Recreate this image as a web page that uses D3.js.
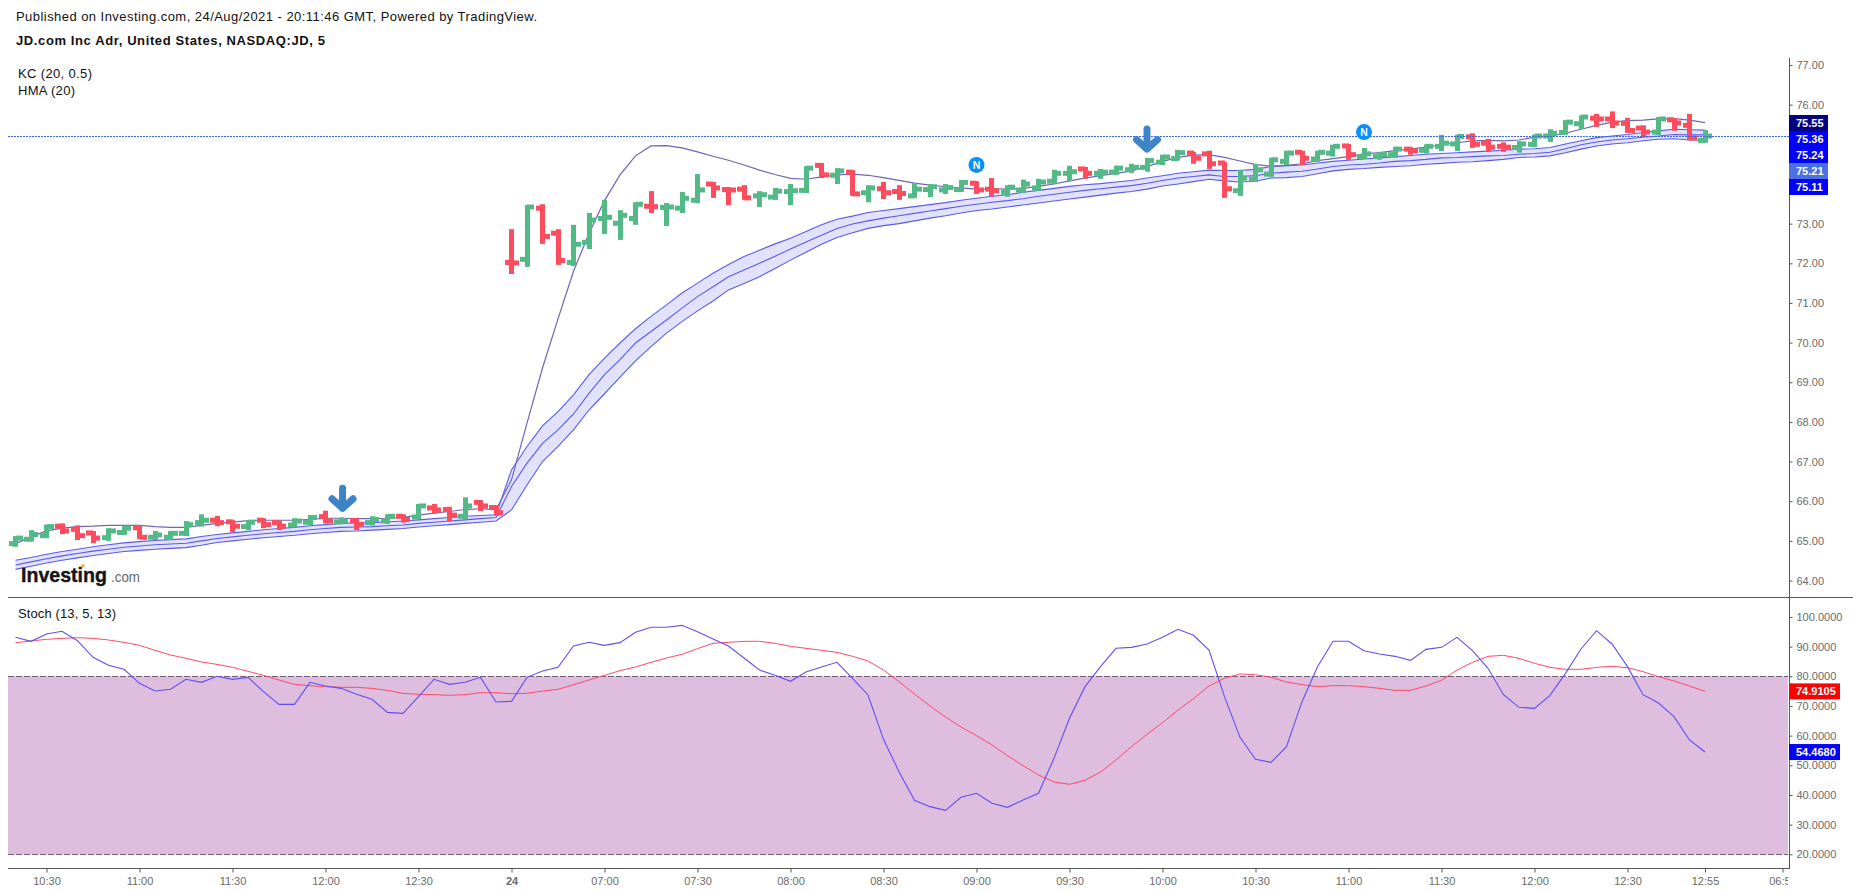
<!DOCTYPE html>
<html>
<head>
<meta charset="utf-8">
<title>JD.com Inc Adr, 5 minute chart</title>
<script src="https://cdnjs.cloudflare.com/ajax/libs/d3/7.8.5/d3.min.js"></script>
<style>
  html, body { margin: 0; padding: 0; background: #fff; }
  svg { display: block; font-family: "Liberation Sans", Arial, sans-serif; }
</style>
</head>
<body>
<svg id="chart" width="1853" height="892"></svg>
<script>
// Five-minute bars, one entry per bar
const open = [64.93,65.04,65.13,65.37,65.29,65.20,65.08,65.21,65.33,65.09,65.09,65.19,65.46,65.52,65.48,65.36,65.52,65.46,65.40,65.47,65.61,65.48,65.51,65.46,65.50,65.62,65.60,65.83,65.79,65.62,65.97,65.84,
  72.02,72.10,73.39,72.76,72.02,72.53,73.13,73.01,73.13,73.44,73.41,73.39,73.59,74.00,73.86,73.87,73.70,73.67,73.81,73.84,74.47,74.22,74.30,73.78,73.88,73.81,73.70,73.86,73.85,73.86,74.02,
  73.87,73.79,73.85,73.90,74.07,74.27,74.38,74.27,74.30,74.36,74.42,74.55,74.64,74.78,74.76,74.53,73.83,74.12,74.25,74.57,74.80,74.63,74.78,74.96,74.69,74.69,74.74,
  74.88,74.85,74.95,75.01,75.19,75.03,74.95,74.92,75.00,75.21,75.30,75.52,75.66,75.64,75.53,75.41,75.31,75.62,75.48,75.10];
const high = [65.12,65.27,65.41,65.44,65.39,65.25,65.32,65.37,65.39,65.25,65.25,65.50,65.67,65.63,65.52,65.52,65.57,65.52,65.57,65.65,65.76,65.59,65.57,65.62,65.67,65.67,65.93,65.93,65.86,66.10,66.03,65.90,
  72.86,73.47,73.49,72.86,72.97,73.27,73.60,73.34,73.54,73.82,73.52,73.80,74.25,74.05,73.92,73.97,73.82,73.90,74.00,74.45,74.53,74.40,74.35,73.97,74.05,73.97,74.02,74.00,74.00,74.10,74.07,
  74.15,73.97,74.11,74.13,74.36,74.46,74.43,74.38,74.46,74.51,74.66,74.74,74.86,74.81,74.84,74.56,74.36,74.51,74.66,74.84,74.84,74.84,74.99,75.01,74.91,74.81,74.94,
  74.93,75.00,75.24,75.24,75.28,75.14,75.05,75.08,75.25,75.38,75.61,75.73,75.77,75.83,75.67,75.48,75.69,75.66,75.77,75.36];
const low = [64.85,64.98,65.07,65.17,65.02,64.94,65.00,65.15,65.04,65.02,65.02,65.12,65.36,65.37,65.22,65.27,65.32,65.27,65.34,65.40,65.44,65.42,65.27,65.39,65.43,65.46,65.55,65.69,65.49,65.54,65.75,65.63,
  71.73,71.91,72.49,71.96,71.93,72.36,72.74,72.59,72.97,73.27,72.94,73.27,73.52,73.65,73.47,73.60,73.42,73.60,73.47,73.77,74.15,74.00,73.70,73.54,73.62,73.60,73.65,73.67,73.75,73.80,73.75,
  73.68,73.68,73.77,73.83,74.00,74.07,74.13,74.13,74.23,74.28,74.31,74.48,74.59,74.51,74.38,73.65,73.70,74.05,74.18,74.48,74.48,74.56,74.69,74.61,74.63,74.61,74.66,
  74.74,74.77,74.83,74.83,74.91,74.81,74.81,74.79,74.93,75.06,75.24,75.39,75.44,75.41,75.29,75.19,75.24,75.34,75.10,75.04];
const close = [65.07,65.16,65.36,65.25,65.13,65.07,65.25,65.32,65.09,65.15,65.19,65.41,65.52,65.46,65.37,65.47,65.41,65.37,65.50,65.59,65.50,65.50,65.42,65.54,65.62,65.54,65.88,65.78,65.65,65.88,65.88,65.71,
  72.01,73.42,72.68,72.07,72.48,73.09,73.16,73.21,73.49,73.43,73.42,73.64,73.85,73.90,73.85,73.65,73.73,73.82,73.83,74.40,74.23,74.33,73.75,73.90,73.78,73.76,73.87,73.93,73.91,74.04,73.85,
  73.83,73.92,74.00,74.05,74.27,74.31,74.27,74.30,74.40,74.42,74.59,74.68,74.79,74.65,74.51,73.88,74.15,74.36,74.61,74.78,74.65,74.80,74.95,74.74,74.76,74.74,74.88,
  74.84,74.95,75.03,75.20,75.00,74.93,74.93,75.01,75.21,75.28,75.56,75.69,75.64,75.54,75.35,75.31,75.64,75.54,75.16,75.21];

// Keltner channel (20, 0.5)
const kcUpper = [64.51,64.58,64.66,64.73,64.79,64.85,64.90,64.95,64.98,65.01,65.03,65.05,65.11,65.16,65.20,65.24,65.28,65.31,65.34,65.38,65.41,65.44,65.45,65.46,65.48,65.50,65.53,65.56,65.59,65.62,65.64,65.66,
  66.79,67.38,67.90,68.26,68.68,69.19,69.61,69.99,70.35,70.66,70.95,71.25,71.50,71.75,71.97,72.17,72.33,72.49,72.63,72.80,72.97,73.11,73.19,73.28,73.33,73.38,73.43,73.48,73.53,73.59,73.64,
  73.69,73.73,73.79,73.84,73.89,73.94,73.98,74.01,74.05,74.09,74.15,74.21,74.27,74.31,74.35,74.34,74.34,74.37,74.44,74.46,74.48,74.53,74.57,74.60,74.63,74.66,74.69,
  74.72,74.75,74.77,74.79,74.81,74.83,74.85,74.88,74.89,74.92,75.01,75.09,75.17,75.21,75.25,75.30,75.34,75.38,75.37,75.36];
const kcBasis = [64.39,64.47,64.55,64.62,64.68,64.74,64.79,64.84,64.87,64.90,64.92,64.94,65.00,65.06,65.10,65.14,65.18,65.21,65.24,65.28,65.31,65.34,65.35,65.36,65.38,65.40,65.44,65.47,65.50,65.53,65.56,65.59,
  66.37,66.96,67.46,67.80,68.20,68.72,69.19,69.57,69.99,70.28,70.57,70.87,71.16,71.41,71.66,71.83,72.00,72.18,72.36,72.54,72.71,72.88,72.99,73.07,73.14,73.20,73.26,73.32,73.38,73.44,73.49,
  73.54,73.58,73.63,73.69,73.74,73.79,73.84,73.88,73.92,73.96,74.02,74.09,74.15,74.19,74.23,74.19,74.19,74.21,74.27,74.30,74.32,74.38,74.44,74.48,74.50,74.53,74.57,
  74.59,74.62,74.66,74.67,74.69,74.71,74.72,74.75,74.77,74.80,74.89,74.99,75.06,75.11,75.14,75.18,75.21,75.25,75.24,75.24];
const kcLower = [64.28,64.36,64.44,64.51,64.57,64.63,64.68,64.73,64.76,64.79,64.81,64.83,64.89,64.96,65.00,65.04,65.08,65.11,65.14,65.18,65.21,65.24,65.25,65.27,65.29,65.31,65.35,65.38,65.41,65.44,65.47,65.50,
  65.78,66.41,67.00,67.38,67.80,68.30,68.71,69.13,69.54,69.90,70.24,70.53,70.80,71.05,71.33,71.49,71.66,71.87,72.08,72.28,72.48,72.65,72.77,72.88,72.95,73.00,73.07,73.14,73.20,73.27,73.33,
  73.37,73.42,73.47,73.52,73.57,73.62,73.67,73.72,73.77,73.81,73.87,73.95,74.00,74.06,74.12,74.08,74.05,74.07,74.15,74.16,74.19,74.26,74.33,74.37,74.39,74.42,74.44,
  74.46,74.50,74.52,74.55,74.56,74.59,74.62,74.67,74.68,74.71,74.79,74.88,74.96,75.01,75.04,75.09,75.13,75.14,75.11,75.11];

// Hull moving average (20)
const hma = [64.93,65.10,65.25,65.32,65.36,65.37,65.39,65.39,65.39,65.36,65.34,65.34,65.39,65.44,65.47,65.51,65.52,65.52,65.52,65.54,65.57,65.57,65.56,65.56,65.57,65.59,65.65,65.70,65.74,65.79,65.81,65.78,
  66.54,67.97,69.36,70.60,71.80,72.75,73.58,74.23,74.71,74.96,74.97,74.91,74.81,74.70,74.60,74.48,74.35,74.24,74.14,74.12,74.18,74.23,74.25,74.22,74.16,74.09,74.02,73.97,73.93,73.90,73.87,
  73.88,73.87,73.89,73.94,74.00,74.08,74.15,74.21,74.27,74.33,74.44,74.57,74.67,74.73,74.74,74.67,74.58,74.49,74.45,74.47,74.51,74.59,74.64,74.69,74.76,74.79,74.84,
  74.88,74.93,74.99,75.04,75.09,75.10,75.09,75.11,75.18,75.21,75.28,75.38,75.48,75.56,75.60,75.61,75.64,75.65,75.61,75.55];

// Stochastic (13, 5, 13)
const stochK = [93.14,91.79,94.26,95.16,92.01,86.39,83.70,82.35,77.63,75.05,75.61,78.98,77.97,79.99,78.98,79.65,74.82,70.55,70.55,77.97,76.73,75.94,73.92,72.24,67.85,67.52,73.14,78.98,77.29,77.97,79.65,71.34,71.56,79.65,81.79,83.02,90.21,91.45,90.44,91.34,
  94.82,96.51,96.51,97.18,95.05,92.57,90.21,86.17,82.12,80.33,78.30,81.45,83.14,84.71,79.32,73.70,58.75,47.85,38.19,36.06,34.82,39.20,40.55,37.18,35.83,38.30,40.55,52.35,65.83,76.51,83.25,89.43,89.76,90.89,93.14,95.83,93.81,88.87,73.14,59.43,
  52.01,51.00,56.28,71.45,83.25,91.79,91.79,88.64,87.52,86.73,85.38,89.09,89.76,93.14,88.64,82.69,73.81,69.54,69.20,73.59,81.00,89.20,95.38,90.89,83.25,73.81,71.00,66.39,58.53,54.468];
const stochD = [91.34,91.90,92.46,92.80,93.02,92.80,92.24,91.45,90.44,88.75,87.18,86.06,84.82,84.03,83.02,81.68,80.33,78.75,77.29,76.84,76.51,76.28,76.28,75.94,75.27,74.26,73.92,73.81,73.59,73.81,74.48,74.48,74.15,74.26,75.05,75.61,77.18,78.75,80.33,81.90,
  83.14,84.71,86.17,87.41,89.32,91.11,91.45,91.79,91.79,91.11,90.10,89.43,88.75,88.08,86.73,85.16,82.12,78.19,74.03,69.99,66.28,62.91,59.99,56.84,53.25,49.88,46.73,44.37,43.59,44.93,47.74,51.79,56.28,60.44,64.37,68.64,72.46,76.73,79.32,80.78,
  80.55,79.65,78.08,77.18,76.51,76.84,76.84,76.51,75.94,75.27,75.27,76.73,78.64,82.12,84.71,86.73,87.07,86.06,84.37,83.02,82.35,82.35,83.02,83.36,82.91,81.56,79.88,78.42,76.73,74.9105];

// Axis content; 74.00 and 75.00 sit behind the value tags and are left out
const priceTicks = [64,65,66,67,68,69,70,71,72,73,76,77];
const stochTicks = [20,30,40,50,60,70,80,90,100];
const stochBandLevels = [80, 20];
const timeTickBars = [2,8,14,20,26,32,38,44,50,56,62,68,74,80,86,92,98,104,109,114];
const timeTickLabels = ["10:30","11:00","11:30","12:00","12:30","24","07:00","07:30","08:00","08:30","09:00","09:30","10:00","10:30","11:00","11:30","12:00","12:30","12:55","06:55"];

// Current-value tags on the price axis, top to bottom
const priceTagValues = ["75.55","75.36","75.24","75.21","75.11"];
const priceTagColors = ["#000080","#0000ff","#0000ff","#4a70e4","#0000ff"];
const lastPrice = 75.21;

// Chart events
const arrowBars = [21.1, 73];
const arrowTipPrices = [65.77, 74.83];
const newsBars = [62, 87];
const newsPrices = [74.48, 75.31];

// Layout
const W = 1853, left = 8, axisX = 1789;
const priceTop = 58, priceBottom = 597, stochBottom = 868;
const svg = d3.select("#chart");

const x = d3.scaleLinear().domain([0, 109]).range([15.5, 1705]);
const yPrice = d3.scaleLinear().domain([64, 76]).range([580.5, 104.7]);
const yStoch = d3.scaleLinear().domain([20, 80]).range([854.3, 676.3]);

const defs = svg.append("defs");
defs.append("clipPath").attr("id", "plot").append("rect")
  .attr("x", left).attr("y", 0).attr("width", axisX - left).attr("height", stochBottom);

const bars = d3.range(open.length);
const plot = svg.append("g").attr("clip-path", "url(#plot)");

// Keltner channel fill and lines
const kcFill = d3.area().x(i => x(i)).y0(i => yPrice(kcLower[i])).y1(i => yPrice(kcUpper[i]));
plot.append("path").datum(bars).attr("d", kcFill).attr("fill", "#e2e2fd");
[kcUpper, kcBasis, kcLower].forEach(series => {
  plot.append("path").datum(bars)
    .attr("d", d3.line().x(i => x(i)).y(i => yPrice(series[i])))
    .attr("fill", "none").attr("stroke", "#5a5af0").attr("stroke-width", 1.1);
});

// Hull moving average
plot.append("path").datum(bars)
  .attr("d", d3.line().x(i => x(i)).y(i => yPrice(hma[i])))
  .attr("fill", "none").attr("stroke", "#6e66b4").attr("stroke-width", 1.2);

// OHLC bars: a thick stem, an open tick on the left and a close tick on the right
const barWidth = 5, tickReach = 7;
const barGroup = plot.append("g").selectAll("g").data(bars).join("g")
  .attr("fill", i => close[i] >= open[i] ? "#53b987" : "#fd4c5e");
barGroup.append("rect")
  .attr("x", i => Math.round(x(i) - barWidth / 2)).attr("width", barWidth)
  .attr("y", i => yPrice(high[i])).attr("height", i => yPrice(low[i]) - yPrice(high[i]));
barGroup.append("rect")
  .attr("x", i => Math.round(x(i) - tickReach)).attr("width", tickReach)
  .attr("y", i => yPrice(open[i]) - barWidth / 2).attr("height", barWidth);
barGroup.append("rect")
  .attr("x", i => Math.round(x(i))).attr("width", tickReach)
  .attr("y", i => yPrice(close[i]) - barWidth / 2).attr("height", barWidth);

// Last-price line
plot.append("line")
  .attr("x1", left).attr("x2", axisX)
  .attr("y1", Math.round(yPrice(lastPrice)) + 0.5).attr("y2", Math.round(yPrice(lastPrice)) + 0.5)
  .attr("stroke", "#3b66e6").attr("stroke-width", 1).attr("stroke-dasharray", "2,1");

// Down arrows
arrowBars.forEach((b, k) => {
  const tx = x(b), ty = yPrice(arrowTipPrices[k]);
  svg.append("path")
    .attr("d", `M${tx},${ty - 22}V${ty - 3}M${tx - 10.5},${ty - 11.5}L${tx},${ty - 2}L${tx + 10.5},${ty - 11.5}`)
    .attr("fill", "none").attr("stroke", "#3d85c6").attr("stroke-width", 7)
    .attr("stroke-linecap", "round").attr("stroke-linejoin", "round");
});

// News markers
newsBars.forEach((b, k) => {
  const g = svg.append("g").attr("transform", `translate(${x(b)},${yPrice(newsPrices[k])})`);
  g.append("circle").attr("r", 8).attr("fill", "#0a90fb");
  g.append("text").attr("text-anchor", "middle").attr("y", 4)
    .attr("font-size", 10.5).attr("font-weight", "bold").attr("fill", "#fff").text("N");
});

// Stochastic pane
const stochPane = svg.append("g").attr("clip-path", "url(#plot)");
stochPane.append("rect")
  .attr("x", left).attr("width", axisX - 1 - left)
  .attr("y", yStoch(stochBandLevels[0]))
  .attr("height", yStoch(stochBandLevels[1]) - yStoch(stochBandLevels[0]))
  .attr("fill", "#debdde");
stochBandLevels.forEach(level => {
  const ly = Math.round(yStoch(level)) + 0.5;
  stochPane.append("line")
    .attr("x1", left).attr("x2", axisX - 1)
    .attr("y1", ly).attr("y2", ly)
    .attr("stroke", "#6f5e74").attr("stroke-width", 1).attr("stroke-dasharray", "6,2");
});
stochPane.append("path").datum(bars)
  .attr("d", d3.line().x(i => x(i)).y(i => yStoch(stochD[i])))
  .attr("fill", "none").attr("stroke", "#ff4a66").attr("stroke-width", 1);
stochPane.append("path").datum(bars)
  .attr("d", d3.line().x(i => x(i)).y(i => yStoch(stochK[i])))
  .attr("fill", "none").attr("stroke", "#5f50f2").attr("stroke-width", 1.1);

// Axes
const axisInk = "#555", labelInk = "#6a6a6a";
function styleAxis(g) {
  g.selectAll(".domain").remove();
  g.selectAll("line").attr("stroke", axisInk);
  g.selectAll("text").attr("fill", labelInk)
    .attr("font-family", '"Liberation Sans", Arial, sans-serif').attr("font-size", 11);
}
const priceAxis = svg.append("g").attr("transform", `translate(${axisX + 0.5},0)`)
  .call(d3.axisRight(yPrice).tickValues(priceTicks).tickFormat(d3.format(".2f")).tickSize(3).tickPadding(4));
styleAxis(priceAxis);
const stochAxis = svg.append("g").attr("transform", `translate(${axisX + 0.5},0)`)
  .call(d3.axisRight(yStoch).tickValues(stochTicks).tickFormat(d3.format(".4f")).tickSize(3).tickPadding(4));
styleAxis(stochAxis);

const timeAxis = svg.append("g").attr("clip-path", "url(#timeClip)")
  .attr("transform", `translate(0,${stochBottom + 0.5})`)
  .call(d3.axisBottom(x).tickValues(timeTickBars)
    .tickFormat((d, k) => timeTickLabels[k]).tickSize(4).tickPadding(5));
styleAxis(timeAxis);
timeAxis.selectAll("text").attr("font-weight", (d, k) => timeTickLabels[k] === "24" ? "bold" : null);
defs.append("clipPath").attr("id", "timeClip").append("rect")
  .attr("x", left).attr("y", 0).attr("width", axisX - 1 - left).attr("height", 24);

// Pane borders
const frame = svg.append("g").attr("stroke", axisInk).attr("stroke-width", 1);
frame.append("line").attr("x1", axisX + 0.5).attr("x2", axisX + 0.5).attr("y1", priceTop).attr("y2", stochBottom + 1);
frame.append("line").attr("x1", left).attr("x2", W).attr("y1", priceBottom + 0.5).attr("y2", priceBottom + 0.5);
frame.append("line").attr("x1", left).attr("x2", axisX).attr("y1", stochBottom + 0.5).attr("y2", stochBottom + 0.5);

// Value tags
function valueTag(label, color, cy, width) {
  svg.append("rect").attr("x", axisX).attr("y", cy - 8).attr("width", width).attr("height", 16).attr("fill", color);
  svg.append("text").attr("x", axisX + 7).attr("y", cy + 4)
    .attr("font-size", 11).attr("font-weight", "bold").attr("fill", "#fff").text(label);
}
const tagStackTop = 123, tagStep = 16;
priceTagValues.forEach((v, k) => valueTag(v, priceTagColors[k], tagStackTop + k * tagStep, 39));
valueTag(d3.format(".4f")(stochD[stochD.length - 1]), "#ff0000", yStoch(stochD[stochD.length - 1]), 51);
valueTag(d3.format(".4f")(stochK[stochK.length - 1]), "#0000ff", yStoch(stochK[stochK.length - 1]), 51);

// Headings and study names
function caption(str, tx, ty, size, len, weight) {
  svg.append("text").attr("x", tx).attr("y", ty).attr("font-size", size)
    .attr("font-weight", weight || "normal").attr("fill", "#111")
    .attr("textLength", len).attr("lengthAdjust", "spacing").text(str);
}
caption("Published on Investing.com, 24/Aug/2021 - 20:11:46 GMT, Powered by TradingView.", 16, 21, 13, 521);
caption("JD.com Inc Adr, United States, NASDAQ:JD, 5", 16, 45, 13, 309, "bold");
caption("KC (20, 0.5)", 18, 78, 13, 74);
caption("HMA (20)", 18, 95, 13, 57);
caption("Stoch (13, 5, 13)", 18, 618, 13, 98);

// Wordmark
svg.append("text").attr("x", 21).attr("y", 582).attr("font-size", 21).attr("font-weight", "bold")
  .attr("fill", "#151515").attr("stroke", "#151515").attr("stroke-width", 0.4)
  .attr("textLength", 86).attr("lengthAdjust", "spacingAndGlyphs").text("Investing");
svg.append("circle").attr("cx", 83).attr("cy", 566).attr("r", 1.7).attr("fill", "#f5a623");
svg.append("text").attr("x", 111).attr("y", 582).attr("font-size", 14)
  .attr("fill", "#666").attr("textLength", 29).attr("lengthAdjust", "spacingAndGlyphs").text(".com");
</script>
</body>
</html>
